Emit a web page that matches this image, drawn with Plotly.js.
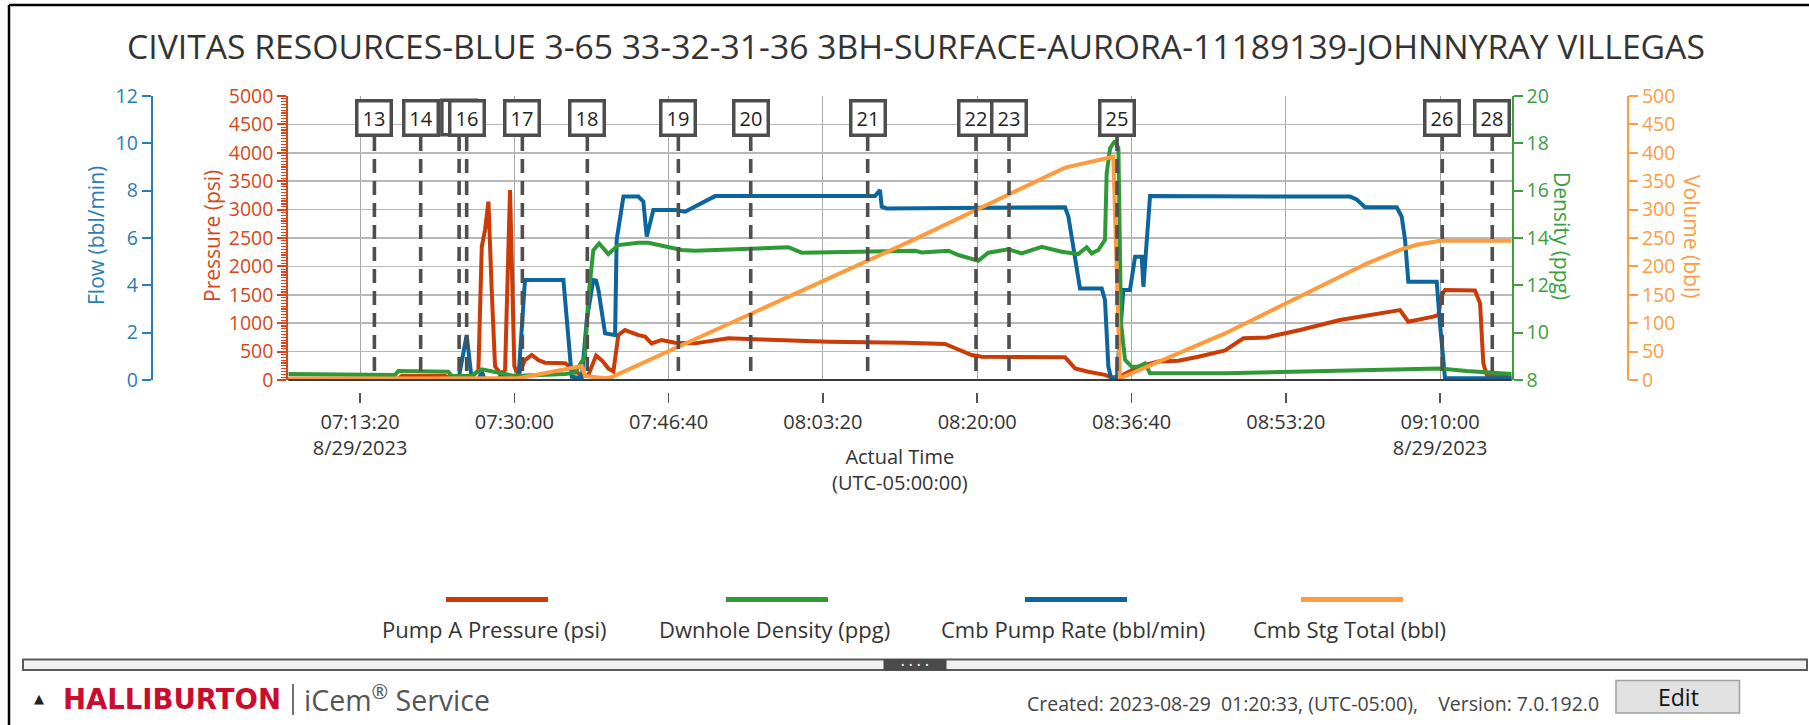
<!DOCTYPE html>
<html>
<head>
<meta charset="utf-8">
<script src="https://cdn.plot.ly/plotly-3.0.1.min.js"></script>
<style>
html,body{margin:0;padding:0;background:#ffffff;overflow:hidden;}
#chart{width:1809px;height:725px;}
</style>
</head>
<body>
<div id="chart"></div>
<script>
// ---------------- DATA ----------------
const chartTitle = 'CIVITAS RESOURCES-BLUE 3-65 33-32-31-36 3BH-SURFACE-AURORA-11189139-JOHNNYRAY VILLEGAS';
const chartDate = '2023-08-29';
const seriesNames = ['Pump A Pressure (psi)', 'Dwnhole Density (ppg)', 'Cmb Pump Rate (bbl/min)', 'Cmb Stg Total (bbl)'];

const pressureTimes = [
  '07:05:35','07:17:28','07:17:50','07:22:31','07:23:14','07:25:24','07:26:07','07:26:29','07:26:50','07:27:12',
  '07:27:33','07:27:55','07:28:38','07:29:00','07:29:32','07:30:00','07:30:26','07:31:09','07:31:53','07:32:36',
  '07:33:19','07:35:29','07:36:33','07:37:17','07:38:00','07:38:50','07:39:26','07:40:09','07:40:42','07:41:14',
  '07:41:57','07:43:24','07:44:07','07:44:50','07:45:55','07:47:21','07:49:31','07:53:07','07:56:43','08:03:55',
  '08:12:12','08:16:31','08:17:15','08:19:24','08:20:29','08:29:29','08:30:34','08:32:00','08:33:48','08:34:31',
  '08:35:25','08:37:24','08:39:34','08:41:44','08:43:53','08:46:46','08:48:45','08:51:16','08:54:52','08:59:11',
  '09:05:40','09:06:34','09:09:16','09:09:49','09:10:10','09:10:32','09:13:46','09:14:19','09:14:40','09:15:02',
  '09:17:44'];
const pressureValues = [
  20,20,70,70,30,60,170,2350,2640,3140,
  1590,240,90,180,3345,240,90,350,440,350,
  305,295,175,60,90,430,350,205,150,790,
  880,790,765,645,705,655,645,735,715,675,
  655,635,585,440,410,400,205,145,90,45,
  60,235,325,340,410,520,735,750,880,1055,
  1230,1025,1115,1145,1495,1585,1575,1350,295,90,
  45];

const densityTimes = [
  '07:05:35','07:17:07','07:17:28','07:22:52','07:23:14','07:25:24','07:26:29','07:27:33','07:29:00','07:30:00',
  '07:33:19','07:35:29','07:36:33','07:37:38','07:38:00','07:38:32','07:39:10','07:40:09','07:41:14','07:43:24',
  '07:44:29','07:45:55','07:48:05','07:49:31','07:59:36','08:01:02','08:13:17','08:14:00','08:16:53','08:17:58',
  '08:19:24','08:20:07','08:21:12','08:23:22','08:24:48','08:26:58','08:29:07','08:30:55','08:31:49','08:32:22',
  '08:33:05','08:33:48','08:33:59','08:34:21','08:34:53','08:35:15','08:35:32','08:35:58','08:36:41','08:37:24',
  '08:38:07','08:38:40','08:46:46','08:54:52','09:09:59','09:12:52','09:17:44'];
const densityValues = [
  8.25,8.21,8.38,8.35,8.17,8.18,8.45,8.35,8.25,8.17,
  8.21,8.25,8.31,8.99,11.52,13.49,13.77,13.32,13.70,13.80,
  13.80,13.66,13.49,13.46,13.61,13.38,13.46,13.39,13.46,13.28,
  13.14,13.04,13.38,13.52,13.35,13.63,13.42,13.32,13.61,13.35,
  13.49,13.92,16.73,17.79,18.11,17.79,10.39,8.85,8.56,8.56,
  8.70,8.28,8.28,8.35,8.49,8.38,8.25];

const rateTimes = [
  '07:05:35','07:23:57','07:24:51','07:25:24','07:26:07','07:26:29','07:26:50','07:28:15','07:28:38','07:29:21',
  '07:30:26','07:31:09','07:35:18','07:36:12','07:37:17','07:37:49','07:38:32','07:38:50','07:39:05','07:39:48',
  '07:40:53','07:41:03','07:41:47','07:43:24','07:43:56','07:44:18','07:45:01','07:47:21','07:48:26','07:51:41',
  '08:08:58','08:09:30','08:09:41','08:10:13','08:29:29','08:29:51','08:31:06','08:33:27','08:33:48','08:34:10',
  '08:34:31','08:35:04','08:35:47','08:36:30','08:37:03','08:37:46','08:37:57','08:38:40','09:00:16','09:00:59',
  '09:01:53','09:05:19','09:05:51','09:06:13','09:06:34','09:09:38','09:09:59','09:10:32','09:17:44'];
const rateValues = [
  0,0,1.90,0,0,0.35,0,0,0.28,0,
  0,4.23,4.23,0.14,0.07,2.54,4.23,4.20,3.80,1.97,
  1.90,5.92,7.75,7.75,7.54,6.06,7.18,7.18,7.11,7.77,
  7.77,8.03,7.32,7.25,7.30,6.90,3.87,3.87,3.38,0.56,
  0,0,3.80,3.80,5.21,5.21,3.94,7.77,7.75,7.63,
  7.30,7.30,6.90,5.92,4.15,4.15,2.39,0.07,0.07];

const volumeTimes = [
  '07:05:35','07:30:26','07:37:17','07:37:38','07:39:48','07:40:31','08:13:17','08:29:29','08:34:42','08:35:25',
  '08:46:46','09:02:04','09:05:40','09:07:29','09:09:59','09:17:44'];
const volumeValues = [
  2,3,24.6,7,3,5,248,374,393,3,
  82,205,229,238,245,245];

// stage markers; stage 15 lies under the box of stage 16 and its label is not visible
const stageLabels = ['13','14','15','16','17','18','19','20','21','22','23','25','26','28'];
const stageTimes = ['07:14:53','07:19:53','07:24:02','07:24:51','07:30:52','07:37:53','07:47:43','07:55:32',
                    '08:08:10','08:19:52','08:23:26','08:35:06','09:10:14','09:15:38'];
const hiddenStageLabels = ['15'];

const timeRange = ['07:05:35', '09:17:44'];
const tickTimes = ['07:13:20','07:30:00','07:46:40','08:03:20','08:20:00','08:36:40','08:53:20','09:10:00'];
const tickLabels = ['07:13:20<br>8/29/2023','07:30:00','07:46:40','08:03:20','08:20:00','08:36:40','08:53:20','09:10:00<br>8/29/2023'];

const pressureRange = [0, 5000], flowRange = [0, 12], densityRange = [8, 20], volumeRange = [0, 500];

// ---------------- STYLE / GEOMETRY ----------------
const W = 1809, H = 725;
const px = v => v / W;
const py = v => 1 - v / H;
const ts = t => chartDate + ' ' + t;

const COL = {
  red: '#cc3a06', green: '#2f9a35', blue: '#0c659c', orange: '#ff9b3d',
  redAx: '#d4481c', blueAx: '#2a7db4', greenAx: '#3c9f3f', orangeAx: '#fb9d45',
  text: '#333333'
};
const FONT = '"Open Sans", "Noto Sans", sans-serif';

const plotL = 288.3, plotR = 1511.7, plotT = 96, plotB = 380;

const traces = [
  {x: pressureTimes.map(ts), y: pressureValues, name: seriesNames[0], type: 'scatter', mode: 'lines',
   xaxis: 'x', yaxis: 'y', line: {color: COL.red, width: 4}},
  {x: rateTimes.map(ts), y: rateValues, name: seriesNames[2], type: 'scatter', mode: 'lines',
   xaxis: 'x', yaxis: 'y2', line: {color: COL.blue, width: 4}},
  {x: densityTimes.map(ts), y: densityValues, name: seriesNames[1], type: 'scatter', mode: 'lines',
   xaxis: 'x', yaxis: 'y3', line: {color: COL.green, width: 4}},
  {x: volumeTimes.map(ts), y: volumeValues, name: seriesNames[3], type: 'scatter', mode: 'lines',
   xaxis: 'x', yaxis: 'y4', line: {color: COL.orange, width: 4}}
];

const shapes = [];
const annotations = [];

// frame lines of the panel
shapes.push({type: 'line', xref: 'paper', yref: 'paper', x0: px(9), x1: 1, y0: py(5), y1: py(5), line: {color: '#000', width: 2.5}});
shapes.push({type: 'line', xref: 'paper', yref: 'paper', x0: px(9), x1: px(9), y0: py(5), y1: 0, line: {color: '#000', width: 2.5}});
// bottom edge of plot
shapes.push({type: 'line', xref: 'paper', yref: 'paper', x0: px(plotL), x1: px(plotR), y0: py(plotB), y1: py(plotB), line: {color: '#3a3a3a', width: 2}, layer: 'above'});

// stage markers: dashed lines + boxed labels
stageTimes.forEach((t, i) => {
  shapes.push({type: 'line', xref: 'x', yref: 'paper', x0: ts(t), x1: ts(t), y0: py(137), y1: py(plotB - 2),
    line: {color: '#4f4f4f', width: 3.6, dash: '14px,8px'}, layer: 'above'});
});
stageTimes.forEach((t, i) => {
  const hidden = hiddenStageLabels.indexOf(stageLabels[i]) >= 0;
  if (hidden) {
    // box only, mostly covered by the next stage's box
    shapes.push({type: 'rect', xref: 'x', yref: 'paper', xsizemode: 'pixel', xanchor: ts(t), x0: -17.25, x1: 17.25,
      y0: py(134.75), y1: py(100.25), fillcolor: '#ffffff', line: {color: '#4d4d4d', width: 3.5}, layer: 'above'});
    return;
  }
  annotations.push({x: ts(t), xref: 'x', y: py(117.5), yref: 'paper', text: stageLabels[i], showarrow: false,
    font: {family: FONT, size: 20, color: '#222222'}, bgcolor: '#ffffff', bordercolor: '#4d4d4d',
    borderwidth: 3.5, borderpad: 0, width: 31, height: 31, xanchor: 'center', yanchor: 'middle', align: 'center', valign: 'middle'});
});

// axis titles
const axTitle = (text, x, color, angle) => annotations.push({text: text, x: px(x), y: py(236), xref: 'paper', yref: 'paper',
  showarrow: false, textangle: angle, font: {family: FONT, size: 21, color: color}, xanchor: 'center', yanchor: 'middle'});
axTitle('Flow (bbl/min)', 96, COL.blueAx, -90);
axTitle('Pressure (psi)', 212, COL.redAx, -90);
axTitle('Density (ppg)', 1562, COL.greenAx, 90);
axTitle('Volume (bbl)', 1692, COL.orangeAx, 90);
annotations.push({text: 'Actual Time<br>(UTC-05:00:00)', x: px(900), y: py(469), xref: 'paper', yref: 'paper', showarrow: false,
  font: {family: FONT, size: 20, color: COL.text}, xanchor: 'center', yanchor: 'middle', align: 'center'});

// custom legend (swatch above text)
const legendColors = [COL.red, COL.green, COL.blue, COL.orange];
const legendCenters = [497, 777, 1076, 1352];
seriesNames.forEach((n, i) => {
  const c = legendCenters[i];
  shapes.push({type: 'line', xref: 'paper', yref: 'paper', x0: px(c - 51), x1: px(c + 51), y0: py(599.5), y1: py(599.5),
    line: {color: legendColors[i], width: 5}});
  annotations.push({text: n, x: px(c - 3), y: py(629), xref: 'paper', yref: 'paper', showarrow: false,
    font: {family: FONT, size: 22, color: COL.text}, xanchor: 'center', yanchor: 'middle'});
});

// footer bar
shapes.push({type: 'rect', xref: 'paper', yref: 'paper', x0: px(23), x1: px(1807), y0: py(670), y1: py(659.5),
  fillcolor: '#f1f1f1', line: {color: '#5a5a5a', width: 2}});
shapes.push({type: 'rect', xref: 'paper', yref: 'paper', x0: px(884), x1: px(946), y0: py(670), y1: py(659.5),
  fillcolor: '#4a4a4a', line: {color: '#4a4a4a', width: 1}});
annotations.push({text: '\u2022\u00A0\u00A0\u2022\u00A0\u00A0\u2022\u00A0\u00A0\u2022', x: px(915), y: py(664.5), xref: 'paper', yref: 'paper', showarrow: false,
  font: {family: FONT, size: 9, color: '#ffffff'}, xanchor: 'center', yanchor: 'middle'});
// footer texts
annotations.push({text: '\u25B2', x: px(38.5), y: py(698.5), xref: 'paper', yref: 'paper', showarrow: false,
  font: {family: '"DejaVu Sans", sans-serif', size: 13, color: '#222'}, xanchor: 'center', yanchor: 'middle'});
annotations.push({text: '<b>HALLIBURTON</b>', x: px(61), y: py(698.5), xref: 'paper', yref: 'paper', showarrow: false,
  font: {family: '"DejaVu Sans", sans-serif', size: 27.5, color: '#cc0c2f'}, xanchor: 'left', yanchor: 'middle'});
shapes.push({type: 'line', xref: 'paper', yref: 'paper', x0: px(293), x1: px(293), y0: py(684), y1: py(715), line: {color: '#444', width: 1.5}});
annotations.push({text: 'iCem<sup>\u00AE</sup> Service', x: px(302), y: py(698), xref: 'paper', yref: 'paper', showarrow: false,
  font: {family: FONT, size: 28.5, color: '#555'}, xanchor: 'left', yanchor: 'middle'});
annotations.push({text: 'Created: 2023-08-29\u00A0\u00A001:20:33, (UTC-05:00),\u00A0\u00A0\u00A0\u00A0Version: 7.0.192.0',
  x: px(1024.5), y: py(703), xref: 'paper', yref: 'paper', showarrow: false,
  font: {family: FONT, size: 19.5, color: '#444'}, xanchor: 'left', yanchor: 'middle'});
shapes.push({type: 'rect', xref: 'paper', yref: 'paper', x0: px(1616), x1: px(1739.5), y0: py(713), y1: py(680.5),
  fillcolor: '#e1e1e1', line: {color: '#a0a0a0', width: 1.5}});
annotations.push({text: 'Edit', x: px(1678), y: py(697), xref: 'paper', yref: 'paper', showarrow: false,
  font: {family: FONT, size: 23, color: '#111'}, xanchor: 'center', yanchor: 'middle'});

const yCommon = {showgrid: false, zeroline: false, showline: true, linewidth: 2, ticks: 'outside', ticklen: 9, tickwidth: 2, fixedrange: true};

const layout = {
  width: W, height: H,
  margin: {l: 0, r: 0, t: 0, b: 0, pad: 0},
  paper_bgcolor: '#ffffff', plot_bgcolor: '#ffffff',
  font: {family: FONT, color: COL.text},
  showlegend: false,
  title: {text: chartTitle, font: {family: FONT, size: 33.7, color: '#333'}, x: px(916), xanchor: 'center', y: py(47.5), yanchor: 'middle'},
  xaxis: {
    type: 'date', domain: [px(plotL), px(plotR)], range: timeRange.map(ts),
    anchor: 'free', position: py(392),
    showline: false, zeroline: false, ticks: 'outside', ticklen: 10, tickwidth: 1.5, tickcolor: '#555',
    tickvals: tickTimes.map(ts), ticktext: tickLabels, tickfont: {family: FONT, size: 20, color: COL.text},
    showgrid: true, gridcolor: '#a6a6a6', gridwidth: 1, fixedrange: true, ticklabelstandoff: 2
  },
  yaxis: Object.assign({}, yCommon, {
    domain: [py(plotB), py(plotT)], range: pressureRange, tick0: 0, dtick: 500, side: 'left', anchor: 'x',
    linecolor: COL.redAx, tickcolor: COL.redAx, tickfont: {family: FONT, size: 19.5, color: COL.redAx},
    showgrid: true, gridcolor: '#b8b8b8', gridwidth: 1.5,
    minor: {dtick: 50, ticks: 'outside', ticklen: 5, tickwidth: 1.2, tickcolor: COL.redAx, showgrid: false}
  }),
  yaxis2: Object.assign({}, yCommon, {
    overlaying: 'y', range: flowRange, tick0: 0, dtick: 2, side: 'left', anchor: 'free', position: px(151.7),
    linecolor: COL.blueAx, tickcolor: COL.blueAx, tickfont: {family: FONT, size: 19.5, color: COL.blueAx}
  }),
  yaxis3: Object.assign({}, yCommon, {
    overlaying: 'y', range: densityRange, tick0: 8, dtick: 2, side: 'right', anchor: 'x',
    linecolor: COL.greenAx, tickcolor: COL.greenAx, tickfont: {family: FONT, size: 19.5, color: COL.greenAx}
  }),
  yaxis4: Object.assign({}, yCommon, {
    overlaying: 'y', range: volumeRange, tick0: 0, dtick: 50, side: 'right', anchor: 'free', position: px(1628),
    linecolor: COL.orangeAx, tickcolor: COL.orangeAx, tickfont: {family: FONT, size: 19.5, color: COL.orangeAx}
  }),
  shapes: shapes,
  annotations: annotations
};

Plotly.newPlot('chart', traces, layout, {staticPlot: true, displayModeBar: false, responsive: false});
</script>
</body>
</html>
